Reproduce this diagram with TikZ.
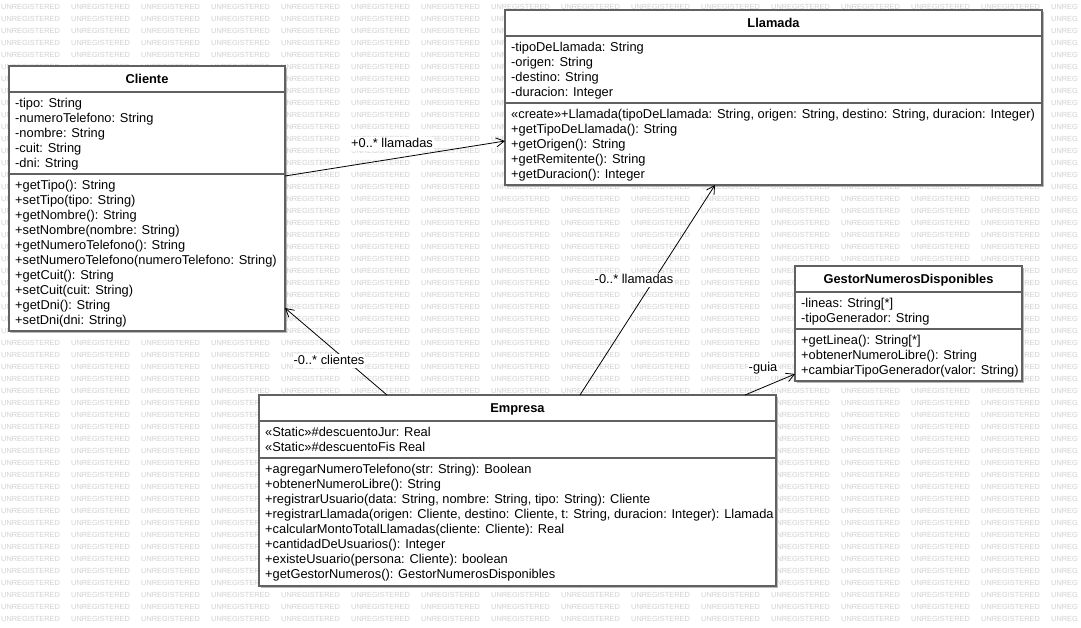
\documentclass[tikz,border=0pt]{standalone}
\usepackage{fontspec}
\setmainfont{Liberation Sans}
\usetikzlibrary{arrows.meta,calc,shadows}
\newcommand\classrows[4]{%
  \foreach \t [count=\i] in {#4} {\node[rowtxt] (#1\i) at ($(#2.north west)+(6,{#3+15*\i-15+4.6})$) {\t};}}
\begin{document}
\begin{tikzpicture}[x=1pt,y=-1pt,
  wm/.style={anchor=west,inner sep=0pt,font=\fontsize{7.4}{8}\selectfont,text=black!18},
  classbox/.style={draw=black!62,line width=1.1pt,fill=white,anchor=north west,inner sep=0pt,outer sep=0pt,
    general shadow={fill=black!28,shadow xshift=2pt,shadow yshift=-2pt}},
  divline/.style={draw=black!62,line width=1.1pt},
  rowtxt/.style={anchor=base west,inner sep=0pt,font=\fontsize{12.85}{15}\selectfont},
  titletxt/.style={anchor=base,inner sep=0pt,font=\fontsize{12.85}{15}\selectfont\bfseries},
  assoc/.style={draw=black,line width=0.8pt,-{Straight Barb[length=8pt,width=9pt]}},
  lbl/.style={fill=white,inner sep=1pt,text height=9.5pt,text depth=2.5pt,font=\fontsize{12.85}{15}\selectfont}]
\useasboundingbox (0,0) rectangle (1081,627);
\fill[white] (0,0) rectangle (1081,627);
% watermark
\foreach \j in {0,...,51} {%
  \foreach \i in {0,...,14} {\node[wm] (wm-\i-\j) at ({70*\i+1},{6.5+12*\j}) {UNREGISTERED};}
  \node[wm] (wm-15-\j) at (1051,{6.5+12*\j}) {UNREG};}
% ---------- Cliente
\node[classbox,minimum width=276pt,minimum height=265pt] (cliente) at (9,66) {};
\draw[divline] ($(cliente.north west)+(0,26)$) -- ($(cliente.north east)+(0,26)$);
\draw[divline] ($(cliente.north west)+(0,108)$) -- ($(cliente.north east)+(0,108)$);
\node[titletxt] (clienteT) at ($(cliente.north)+(0,17.6)$) {Cliente};
\classrows{cA}{cliente}{36.5}{{-tipo: String},{-numeroTelefono: String},{-nombre: String},{-cuit: String},{-dni: String}}
\classrows{cM}{cliente}{118.5}{{+getTipo(): String},{+setTipo(tipo: String)},{+getNombre(): String},{+setNombre(nombre: String)},{+getNumeroTelefono(): String},{+setNumeroTelefono(numeroTelefono: String)},{+getCuit(): String},{+setCuit(cuit: String)},{+getDni(): String},{+setDni(dni: String)}}
% ---------- Llamada
\node[classbox,minimum width=537pt,minimum height=175pt] (llamada) at (505,10) {};
\draw[divline] ($(llamada.north west)+(0,26)$) -- ($(llamada.north east)+(0,26)$);
\draw[divline] ($(llamada.north west)+(0,93)$) -- ($(llamada.north east)+(0,93)$);
\node[titletxt] (llamadaT) at ($(llamada.north)+(0,17.6)$) {Llamada};
\classrows{lA}{llamada}{36.5}{{-tipoDeLlamada: String},{-origen: String},{-destino: String},{-duracion: Integer}}
\classrows{lM}{llamada}{103.5}{{«create»+Llamada(tipoDeLlamada: String, origen: String, destino: String, duracion: Integer)},{+getTipoDeLlamada(): String},{+getOrigen(): String},{+getRemitente(): String},{+getDuracion(): Integer}}
% ---------- GestorNumerosDisponibles
\node[classbox,minimum width=227pt,minimum height=115pt] (gestor) at (795,266) {};
\draw[divline] ($(gestor.north west)+(0,26)$) -- ($(gestor.north east)+(0,26)$);
\draw[divline] ($(gestor.north west)+(0,63)$) -- ($(gestor.north east)+(0,63)$);
\node[titletxt] (gestorT) at ($(gestor.north)+(0,17.6)$) {GestorNumerosDisponibles};
\classrows{gA}{gestor}{36.5}{{-lineas: String[*]},{-tipoGenerador: String}}
\classrows{gM}{gestor}{73.5}{{+getLinea(): String[*]},{+obtenerNumeroLibre(): String},{+cambiarTipoGenerador(valor: String)}}
% ---------- Empresa
\node[classbox,minimum width=517pt,minimum height=191pt] (empresa) at (259,395) {};
\draw[divline] ($(empresa.north west)+(0,26)$) -- ($(empresa.north east)+(0,26)$);
\draw[divline] ($(empresa.north west)+(0,63)$) -- ($(empresa.north east)+(0,63)$);
\node[titletxt] (empresaT) at ($(empresa.north)+(0,17.6)$) {Empresa};
\classrows{eA}{empresa}{36.5}{{«Static»\#descuentoJur: Real},{«Static»\#descuentoFis Real}}
\classrows{eM}{empresa}{73.5}{{+agregarNumeroTelefono(str: String): Boolean},{+obtenerNumeroLibre(): String},{+registrarUsuario(data: String, nombre: String, tipo: String): Cliente},{+registrarLlamada(origen: Cliente, destino: Cliente, t: String, duracion: Integer): Llamada},{+calcularMontoTotalLlamadas(cliente: Cliente): Real},{+cantidadDeUsuarios(): Integer},{+existeUsuario(persona: Cliente): boolean},{+getGestorNumeros(): GestorNumerosDisponibles}}
% ---------- connectors
\draw[assoc] ($(cliente.north east)+(0,110)$) -- ($(llamada.north west)+(0,131)$);
\draw[assoc] ($(empresa.north west)+(128,0)$) -- ($(cliente.south east)+(0,-23)$);
\draw[assoc] ($(empresa.north west)+(321,0)$) -- ($(llamada.south west)+(210,0)$);
\draw[assoc] ($(empresa.north west)+(486,0)$) -- ($(gestor.south west)+(0,-7)$);
\node[lbl] (l1) at (392,144) {+0..* llamadas};
\node[lbl] (l2) at (329,361) {-0..* clientes};
\node[lbl] (l3) at (634,280) {-0..* llamadas};
\node[lbl] (l4) at (763,368) {-guia};
\end{tikzpicture}
\end{document}
